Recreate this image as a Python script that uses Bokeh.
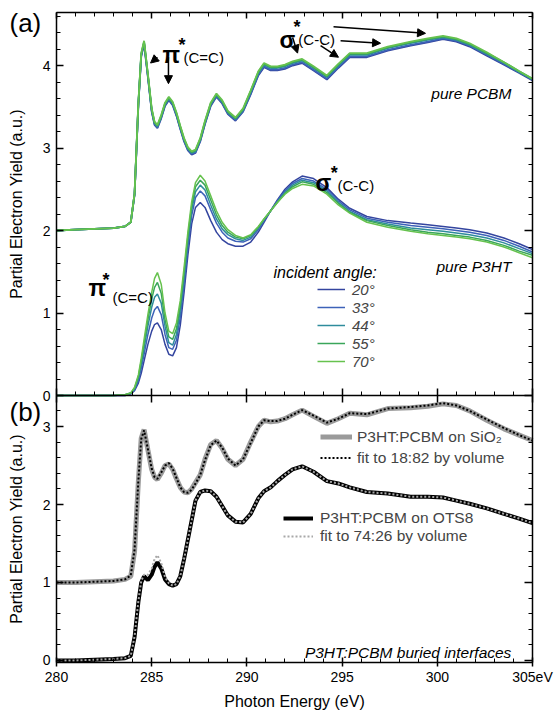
from bokeh.plotting import figure
from bokeh.models import (LinearAxis, FixedTicker, Range1d, Arrow, NormalHead,
                          Label, Legend, LegendItem)
from bokeh.embed import file_html
from bokeh.resources import INLINE

# ---------------- data ----------------
energy = [280, 281, 282, 283, 283.6, 283.9, 284.1, 284.3, 284.45, 284.6,
          284.8, 285.0, 285.15, 285.3, 285.5, 285.7, 285.9, 286.1, 286.3, 286.5,
          286.7, 286.9, 287.1, 287.3, 287.55, 287.8, 288.1, 288.4, 288.7, 289.0,
          289.4, 289.8, 290.2, 290.6, 290.9, 291.25, 291.6, 292.0, 292.4, 292.9,
          293.5, 294.2, 294.8, 295.4, 296.3, 297.4, 298.6, 299.5, 300.3, 301.0,
          301.7, 302.6, 303.5, 304.3, 305.0]

angles = ["20°", "33°", "44°", "55°", "70°"]
angle_colors = ["#34459f", "#3d62b8", "#2f8c9c", "#3aa65a", "#66c24e"]

# pure PCBM (plotted with +2 offset)
pcbm_20 = [2.00, 2.01, 2.02, 2.03, 2.05, 2.10, 2.43, 3.52, 4.11, 4.26, 3.86, 3.44, 3.28, 3.24, 3.36, 3.51, 3.58, 3.52, 3.39, 3.23,
           3.08, 2.97, 2.92, 2.94, 3.08, 3.29, 3.51, 3.62, 3.54, 3.41, 3.33, 3.44, 3.65, 3.88, 3.98, 3.94, 3.94, 3.96, 4.00, 4.03,
           3.94, 3.83, 3.97, 4.10, 4.10, 4.18, 4.24, 4.28, 4.32, 4.29, 4.23, 4.12, 4.01, 3.91, 3.82]
pcbm_33 = [2.00, 2.01, 2.02, 2.03, 2.05, 2.10, 2.44, 3.53, 4.12, 4.27, 3.87, 3.45, 3.29, 3.25, 3.37, 3.52, 3.59, 3.53, 3.40, 3.24,
           3.09, 2.98, 2.93, 2.95, 3.09, 3.30, 3.52, 3.63, 3.55, 3.42, 3.34, 3.45, 3.66, 3.89, 3.99, 3.95, 3.95, 3.97, 4.01, 4.04,
           3.95, 3.84, 3.98, 4.11, 4.11, 4.19, 4.25, 4.29, 4.33, 4.30, 4.24, 4.13, 4.02, 3.92, 3.83]
pcbm_44 = [2.00, 2.01, 2.02, 2.03, 2.05, 2.10, 2.44, 3.54, 4.13, 4.28, 3.88, 3.46, 3.30, 3.26, 3.38, 3.53, 3.60, 3.54, 3.41, 3.25,
           3.10, 2.99, 2.94, 2.96, 3.10, 3.31, 3.53, 3.64, 3.56, 3.43, 3.35, 3.46, 3.68, 3.91, 4.01, 3.97, 3.97, 3.99, 4.03, 4.06,
           3.97, 3.86, 4.00, 4.13, 4.13, 4.21, 4.27, 4.31, 4.34, 4.31, 4.25, 4.14, 4.03, 3.92, 3.83]
pcbm_55 = [2.00, 2.01, 2.02, 2.03, 2.05, 2.10, 2.45, 3.55, 4.14, 4.29, 3.89, 3.47, 3.31, 3.27, 3.39, 3.54, 3.61, 3.55, 3.42, 3.26,
           3.11, 3.00, 2.95, 2.97, 3.11, 3.32, 3.54, 3.65, 3.57, 3.44, 3.36, 3.47, 3.69, 3.92, 4.02, 3.98, 3.98, 4.00, 4.04, 4.07,
           3.98, 3.87, 4.01, 4.14, 4.14, 4.22, 4.28, 4.32, 4.35, 4.32, 4.26, 4.15, 4.04, 3.93, 3.84]
pcbm_70 = [2.00, 2.01, 2.02, 2.03, 2.05, 2.10, 2.45, 3.55, 4.15, 4.30, 3.90, 3.48, 3.32, 3.28, 3.40, 3.55, 3.62, 3.56, 3.43, 3.27,
           3.12, 3.01, 2.96, 2.98, 3.12, 3.33, 3.55, 3.66, 3.58, 3.45, 3.37, 3.48, 3.70, 3.93, 4.03, 3.99, 3.99, 4.01, 4.05, 4.08,
           3.99, 3.88, 4.02, 4.15, 4.15, 4.23, 4.29, 4.33, 4.36, 4.33, 4.27, 4.16, 4.04, 3.93, 3.84]

# pure P3HT
p3ht_20 = [0.00, 0.00, 0.00, 0.00, 0.00, 0.02, 0.06, 0.15, 0.27, 0.42, 0.62, 0.78, 0.86, 0.88, 0.80, 0.62, 0.50, 0.48, 0.58, 0.85,
           1.25, 1.70, 2.08, 2.28, 2.34, 2.28, 2.12, 1.98, 1.89, 1.84, 1.81, 1.81, 1.86, 1.98, 2.10, 2.24, 2.37, 2.50, 2.59, 2.66,
           2.63, 2.52, 2.38, 2.27, 2.17, 2.12, 2.09, 2.07, 2.05, 2.03, 2.01, 1.97, 1.91, 1.84, 1.77]
p3ht_33 = [0.00, 0.00, 0.00, 0.00, 0.00, 0.02, 0.07, 0.18, 0.33, 0.50, 0.74, 0.94, 1.04, 1.08, 0.98, 0.74, 0.58, 0.56, 0.67, 0.95,
           1.35, 1.80, 2.18, 2.40, 2.48, 2.42, 2.25, 2.09, 1.98, 1.91, 1.87, 1.86, 1.90, 2.01, 2.12, 2.24, 2.36, 2.48, 2.57, 2.63,
           2.60, 2.50, 2.36, 2.25, 2.15, 2.10, 2.06, 2.04, 2.02, 2.00, 1.98, 1.94, 1.88, 1.81, 1.74]
p3ht_44 = [0.00, 0.00, 0.00, 0.00, 0.01, 0.03, 0.08, 0.21, 0.38, 0.57, 0.84, 1.07, 1.19, 1.23, 1.12, 0.84, 0.64, 0.61, 0.74, 1.03,
           1.43, 1.87, 2.25, 2.47, 2.55, 2.49, 2.31, 2.14, 2.02, 1.95, 1.90, 1.88, 1.92, 2.03, 2.13, 2.24, 2.35, 2.46, 2.55, 2.61,
           2.58, 2.48, 2.34, 2.23, 2.13, 2.08, 2.03, 2.01, 1.99, 1.97, 1.95, 1.91, 1.85, 1.78, 1.72]
p3ht_55 = [0.00, 0.00, 0.00, 0.00, 0.01, 0.03, 0.09, 0.23, 0.42, 0.63, 0.92, 1.17, 1.31, 1.37, 1.24, 0.92, 0.71, 0.68, 0.81, 1.09,
           1.49, 1.93, 2.30, 2.53, 2.61, 2.55, 2.37, 2.19, 2.06, 1.98, 1.92, 1.90, 1.94, 2.04, 2.14, 2.24, 2.34, 2.45, 2.53, 2.59,
           2.56, 2.46, 2.33, 2.22, 2.12, 2.06, 2.01, 1.98, 1.96, 1.94, 1.92, 1.88, 1.82, 1.75, 1.70]
p3ht_70 = [0.00, 0.00, 0.00, 0.00, 0.01, 0.03, 0.10, 0.25, 0.45, 0.68, 0.98, 1.25, 1.42, 1.49, 1.35, 1.00, 0.78, 0.75, 0.88, 1.15,
           1.55, 1.98, 2.35, 2.58, 2.67, 2.60, 2.42, 2.24, 2.10, 2.01, 1.94, 1.91, 1.95, 2.05, 2.14, 2.24, 2.34, 2.44, 2.51, 2.56,
           2.54, 2.44, 2.31, 2.21, 2.10, 2.04, 1.99, 1.96, 1.94, 1.92, 1.90, 1.86, 1.80, 1.73, 1.67]

# buried interfaces (panel b)
sio2_data = [1.00, 1.00, 1.01, 1.02, 1.04, 1.08, 1.40, 2.30, 2.85, 2.96, 2.70, 2.45, 2.35, 2.32, 2.40, 2.50, 2.52, 2.45, 2.33, 2.22,
             2.16, 2.15, 2.20, 2.28, 2.38, 2.58, 2.77, 2.82, 2.72, 2.58, 2.50, 2.58, 2.80, 3.00, 3.08, 3.06, 3.07, 3.10, 3.15, 3.21,
             3.13, 3.04, 3.10, 3.17, 3.15, 3.23, 3.24, 3.26, 3.29, 3.27, 3.20, 3.08, 2.97, 2.89, 2.82]
sio2_fit = [1.00, 1.00, 1.01, 1.02, 1.04, 1.09, 1.42, 2.31, 2.84, 2.95, 2.71, 2.46, 2.35, 2.33, 2.41, 2.50, 2.53, 2.46, 2.34, 2.22,
            2.16, 2.15, 2.19, 2.27, 2.38, 2.57, 2.76, 2.82, 2.73, 2.59, 2.50, 2.58, 2.79, 3.00, 3.08, 3.07, 3.07, 3.10, 3.15, 3.21,
            3.14, 3.05, 3.10, 3.17, 3.16, 3.23, 3.25, 3.27, 3.30, 3.27, 3.20, 3.09, 2.98, 2.89, 2.82]
ots8_data = [0.00, 0.00, 0.01, 0.02, 0.03, 0.06, 0.30, 0.75, 1.00, 1.08, 1.03, 1.10, 1.20, 1.26, 1.18, 1.04, 0.98, 0.96, 0.98, 1.08,
             1.30, 1.55, 1.80, 2.05, 2.16, 2.18, 2.17, 2.10, 1.98, 1.86, 1.78, 1.77, 1.88, 2.08, 2.17, 2.22, 2.30, 2.38, 2.45, 2.49,
             2.42, 2.30, 2.27, 2.22, 2.16, 2.14, 2.10, 2.10, 2.09, 2.05, 2.01, 1.95, 1.88, 1.82, 1.76]
ots8_fit = [0.00, 0.00, 0.01, 0.02, 0.03, 0.06, 0.31, 0.76, 1.02, 1.10, 1.10, 1.18, 1.30, 1.35, 1.25, 1.07, 0.99, 0.96, 0.98, 1.08,
            1.30, 1.55, 1.80, 2.05, 2.16, 2.18, 2.17, 2.10, 1.98, 1.86, 1.78, 1.77, 1.88, 2.08, 2.17, 2.22, 2.30, 2.38, 2.45, 2.49,
            2.42, 2.30, 2.27, 2.22, 2.16, 2.14, 2.10, 2.10, 2.09, 2.05, 2.01, 1.95, 1.88, 1.82, 1.76]

x_major_ticks = [280, 285, 290, 295, 300, 305]
x_minor_ticks = list(range(280, 306))
x_tick_labels = {305: "305eV"}
ya_major_ticks = [0, 1, 2, 3, 4]
ya_minor_ticks = [i / 5 for i in range(0, 24)]
yb_major_ticks = [0, 1, 2, 3]
yb_minor_ticks = [i / 5 for i in range(0, 18)]

# panel extents (data units)
X0, X1 = 280, 305
YA0, YA1 = 0.0, 4.64          # panel (a)
YB0, YB1 = -0.026, 3.397      # panel (b)

FONT = "Liberation Sans"

p = figure(width=554, height=711,
           x_range=Range1d(277.059, 306.155), y_range=Range1d(-3.830, 4.788),
           x_axis_type=None, y_axis_type=None, output_backend="svg", toolbar_location=None,
           min_border=0, min_border_left=0, min_border_right=0, min_border_top=0, min_border_bottom=0)
p.extra_y_ranges = {"b": Range1d(-0.654, 8.462)}
p.outline_line_color = None
p.background_fill_color = "white"
p.border_fill_color = "white"


def add_axis(side, ticks, minor, fixed, bounds, yname="default", labels=False,
             tin=7, tout=0, mtin=4, mtout=0, overrides=None, title=None):
    ax = LinearAxis(ticker=FixedTicker(ticks=ticks, minor_ticks=minor),
                    fixed_location=fixed, bounds=bounds, y_range_name=yname)
    ax.axis_line_color = "black"
    ax.axis_line_width = 1.5
    ax.major_tick_line_color = "black"
    ax.major_tick_line_width = 1.5
    ax.minor_tick_line_color = "black"
    ax.minor_tick_line_width = 1
    ax.major_tick_in = tin
    ax.major_tick_out = tout
    ax.minor_tick_in = mtin
    ax.minor_tick_out = mtout
    if labels:
        ax.major_label_text_font = FONT
        ax.major_label_text_font_size = "14px"
        ax.major_label_text_color = "black"
    else:
        ax.major_label_text_font_size = "0px"
        ax.major_label_standoff = 0
        ax.major_label_text_alpha = 0
    if overrides:
        ax.major_label_overrides = overrides
    if title:
        ax.axis_label = title
        ax.axis_label_text_font = FONT
        ax.axis_label_text_font_size = "16px"
        ax.axis_label_text_font_style = "normal"
        ax.axis_label_text_color = "black"
    p.add_layout(ax, side)
    return ax


ylab = "Partial Electron Yield (a.u.)"
la = add_axis("left", ya_major_ticks, ya_minor_ticks, X0, (YA0, YA1), labels=True, title=ylab)
la.major_label_standoff = 6
la.axis_label_standoff = 15
lb = add_axis("left", yb_major_ticks, yb_minor_ticks, X0, (YB0, YB1), yname="b", labels=True, title=ylab)
lb.major_label_standoff = 6
lb.axis_label_standoff = 15
add_axis("right", ya_major_ticks, ya_minor_ticks, X1, (YA0, YA1), tin=8)
add_axis("right", yb_major_ticks, yb_minor_ticks, X1, (YB0, YB1), yname="b", tin=8)
add_axis("above", x_major_ticks, x_minor_ticks, YA1, (X0, X1), tin=6, mtin=4)
add_axis("below", x_major_ticks, x_minor_ticks, YA0, (X0, X1), tin=7, tout=7, mtin=4)
bx = add_axis("below", x_major_ticks, x_minor_ticks, YB0, (X0, X1), yname="b", labels=True,
              tin=5, tout=4, mtin=4, overrides=x_tick_labels, title="Photon Energy (eV)")
bx.major_label_standoff = 2
bx.axis_label_standoff = 5

# ---------------- panel (a) curves ----------------
pcbm_sets = [pcbm_20, pcbm_33, pcbm_44, pcbm_55, pcbm_70]
p3ht_sets = [p3ht_20, p3ht_33, p3ht_44, p3ht_55, p3ht_70]
legend_items = []
for lab, col, yc, yp in zip(angles, angle_colors, pcbm_sets, p3ht_sets):
    r1 = p.line(energy, yp, line_color=col, line_width=1.5)
    p.line(energy, yc, line_color=col, line_width=1.8)
    legend_items.append(LegendItem(label=lab, renderers=[r1]))

leg_a = Legend(items=legend_items, location=(317, 341), glyph_width=28, glyph_height=18,
               label_height=18, spacing=0, padding=0, margin=0, label_standoff=7,
               label_text_font=FONT, label_text_font_size="15px", label_text_font_style="italic",
               border_line_alpha=0, background_fill_alpha=0)
p.add_layout(leg_a)

# ---------------- panel (b) curves ----------------
r_sio2 = p.line(energy, sio2_data, line_color="#9a9a9a", line_width=5, y_range_name="b")
r_sio2_fit = p.line(energy, sio2_fit, line_color="black", line_width=2, line_dash="2 2", y_range_name="b")
r_ots = p.line(energy, ots8_data, line_color="black", line_width=4, y_range_name="b")
r_ots_fit = p.line(energy, ots8_fit, line_color="#a8a8a8", line_width=2, line_dash="2 2", y_range_name="b")

leg_b1 = Legend(items=[LegendItem(label="P3HT:PCBM on SiO₂", renderers=[r_sio2]),
                       LegendItem(label="fit to 18:82 by volume", renderers=[r_sio2_fit])],
                location=(320, 243), glyph_width=32, glyph_height=21, label_height=21,
                spacing=0, padding=0, margin=0, label_standoff=5,
                label_text_font=FONT, label_text_font_size="15.5px",
                border_line_alpha=0, background_fill_alpha=0)
leg_b2 = Legend(items=[LegendItem(label="P3HT:PCBM on OTS8", renderers=[r_ots]),
                       LegendItem(label="fit to 74:26 by volume", renderers=[r_ots_fit])],
                location=(283, 166), glyph_width=30, glyph_height=18, label_height=18,
                spacing=0, padding=0, margin=0, label_standoff=7,
                label_text_font=FONT, label_text_font_size="15.5px",
                border_line_alpha=0, background_fill_alpha=0)
p.add_layout(leg_b1)
p.add_layout(leg_b2)


def lbl(x, y, text, size, style="normal", align="left", baseline="alphabetic", yname="default"):
    p.add_layout(Label(x=x, y=y, text=text, text_font=FONT, text_font_size=size,
                       text_font_style=style, text_align=align, text_baseline=baseline,
                       text_color="black", y_range_name=yname))


# texts of panel (a)
lbl(277.53, 4.51, "(a)", "26px", baseline="middle")
lbl(291.40, 1.49, "incident angle:", "16px", style="italic", baseline="middle")
lbl(303.89, 3.66, "pure PCBM", "15.5px", style="italic", align="right")
lbl(303.89, 1.56, "pure P3HT", "15.5px", style="italic", align="right")
lbl(285.57, 4.13, "π", "23px", style="bold")
lbl(286.41, 4.25, "*", "18px", style="bold")
lbl(286.67, 4.10, "(C=C)", "15px")
lbl(291.71, 4.31, "σ", "23px", style="bold")
lbl(292.45, 4.47, "*", "18px", style="bold")
lbl(292.70, 4.31, "(C-C)", "15px")
lbl(293.60, 2.58, "σ", "23px", style="bold")
lbl(294.40, 2.70, "*", "18px", style="bold")
lbl(294.76, 2.55, "(C-C)", "15px")
lbl(281.68, 1.30, "π", "23px", style="bold")
lbl(282.42, 1.40, "*", "18px", style="bold")
lbl(282.94, 1.19, "(C=C)", "15px")

arrows = [((285.30, 4.10), (284.94, 4.03)),
          ((285.88, 4.10), (285.88, 3.78)),
          ((292.40, 4.34), (292.66, 4.15)),
          ((293.87, 4.24), (294.81, 4.10)),
          ((294.92, 4.30), (297.02, 4.27)),
          ((294.55, 4.47), (299.38, 4.39))]
for (xs, ys), (xe, ye) in arrows:
    p.add_layout(Arrow(end=NormalHead(size=8, fill_color="black", line_color="black"),
                       x_start=xs, y_start=ys, x_end=xe, y_end=ye,
                       line_color="black", line_width=1.5))

# texts of panel (b)
lbl(277.53, 3.19, "(b)", "26px", baseline="middle", yname="b")
lbl(303.89, 0.10, "P3HT:PCBM buried interfaces", "15.5px", style="italic", align="right", yname="b")

open("out.html", "w").write(file_html(p, INLINE))
